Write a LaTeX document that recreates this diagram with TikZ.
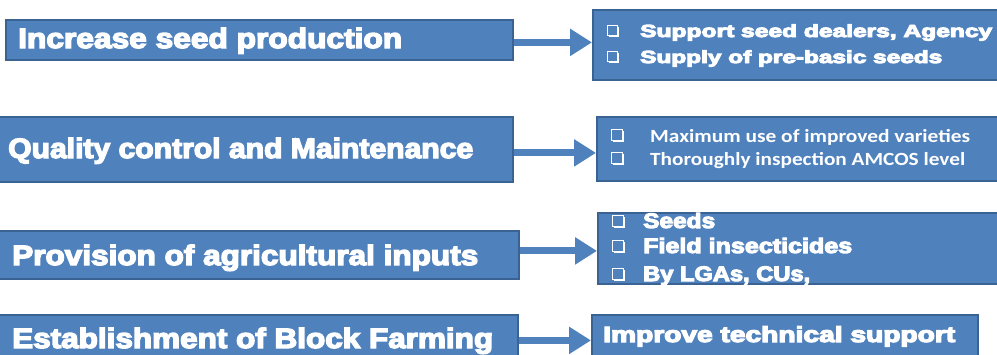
\documentclass[tikz,border=0pt]{standalone}
\usepackage{fontspec}
\usepackage{graphicx}
\setmainfont{Liberation Sans}
\newfontfamily\calib{Carlito}
\usetikzlibrary{arrows.meta,shadows}
\definecolor{boxblue}{HTML}{4F81BD}
\definecolor{boxedge}{HTML}{3A6394}
\newcommand\heavy[2]{\special{pdf:literal direct 2 Tr #1 w}#2\special{pdf:literal direct 0 Tr 1 w}}
\newcommand\fitw[2]{\resizebox{#1}{\height}{#2}}
\begin{document}
\begin{tikzpicture}[x=1pt,y=-1pt,
  box/.style={draw=boxedge, fill=boxblue, line width=1.8pt, inner sep=0pt, anchor=north west},
  txt/.style={text=white, inner sep=0pt, anchor=base west, font=\bfseries},
  big/.style={txt, font=\bfseries\fontsize{28}{30}\selectfont},
  chkb/.style={draw=white, fill=boxblue, line width=1.2pt, minimum size=10pt, inner sep=0pt, anchor=south west,
     drop shadow={shadow xshift=1.4pt, shadow yshift=-1.4pt, fill=white, opacity=1}},
  arr/.style={draw=boxblue, line width=7pt, -{Triangle[width=26pt,length=22pt]}}]
\useasboundingbox (0,0) rectangle (997,354);
\clip (0,0) rectangle (997,354);

% left boxes
\node[box, minimum width=507pt, minimum height=40pt] (L1) at (5,19) {};
\node[box, minimum width=517pt, minimum height=65pt] (L2) at (-5,116) {};
\node[box, minimum width=523pt, minimum height=48pt] (L3) at (-5,230) {};
\node[box, minimum width=522pt, minimum height=51pt] (L4) at (-5,314) {};

% right boxes
\node[box, minimum width=413pt, minimum height=70pt] (R1) at (592,9) {};
\node[box, minimum width=409pt, minimum height=64pt] (R2) at (596,116) {};
\node[box, minimum width=408pt, minimum height=71pt] (R3) at (597,212) {};
\node[box, minimum width=386pt, minimum height=51pt] (R4) at (591,314) {};

% left texts
\node[big] (t1) at (18,48) {\fitw{384pt}{\heavy{1.3}{Increase seed production}}};
\node[big] (t2) at (8,158) {\fitw{465pt}{\heavy{1.3}{Quality control and Maintenance}}};
\node[big] (t3) at (12,265) {\fitw{466pt}{\heavy{1.3}{Provision of agricultural inputs}}};
\node[big] (t4) at (12,348) {\fitw{481pt}{\heavy{1.3}{Establishment of Block Farming}}};

% right box 1
\node[chkb] (c11) at (607,36) {};
\node[chkb] (c12) at (607,62) {};
\node[txt, font=\bfseries\fontsize{17.5}{19}\selectfont] (r11) at (640,37) {\fitw{352pt}{\heavy{0.9}{Support seed dealers, Agency}}};
\node[txt, font=\bfseries\fontsize{17.5}{19}\selectfont] (r12) at (640,63) {\fitw{302pt}{\heavy{0.9}{Supply of pre-basic seeds}}};

% right box 2
\node[chkb, minimum size=11pt] (c21) at (611,141) {};
\node[chkb, minimum size=11pt] (c22) at (611,164) {};
\node[txt, font=\calib\bfseries\fontsize{18.6}{20}\selectfont] (r21) at (650,142) {\fitw{320pt}{Maximum use of improved varieties}};
\node[txt, font=\calib\bfseries\fontsize{18.6}{20}\selectfont] (r22) at (650,165) {\fitw{315pt}{Thoroughly inspection AMCOS level}};

% right box 3
\node[chkb, minimum size=11pt] (c31) at (612,227) {};
\node[chkb, minimum size=11pt] (c32) at (612,252) {};
\node[chkb, minimum size=11pt] (c33) at (612,280) {};
\node[txt, font=\bfseries\fontsize{21}{23}\selectfont] (r31) at (643,228) {\fitw{72pt}{\heavy{1.0}{Seeds}}};
\node[txt, font=\bfseries\fontsize{21}{23}\selectfont] (r32) at (643,253) {\fitw{209pt}{\heavy{1.0}{Field insecticides}}};
\node[txt, font=\bfseries\fontsize{21}{23}\selectfont] (r33) at (643,281) {\fitw{167pt}{\heavy{1.0}{By LGAs, CUs,}}};

% right box 4
\node[txt, font=\bfseries\fontsize{22}{24}\selectfont] (r41) at (603,342) {\fitw{352pt}{\heavy{1.1}{Improve technical support}}};

% arrows
\draw[arr] ([yshift=-2.5pt]L1.east) -- ([yshift=-2.5pt]L1.east -| R1.west);
\draw[arr] ([yshift=-3.5pt]L2.east) -- ([yshift=-3.5pt]L2.east -| R2.west);
\draw[arr] ([yshift=4pt]L3.east) -- ([yshift=4pt]L3.east -| R3.west);
\draw[arr] (L4.east) -- (L4.east -| R4.west);
\end{tikzpicture}
\end{document}
